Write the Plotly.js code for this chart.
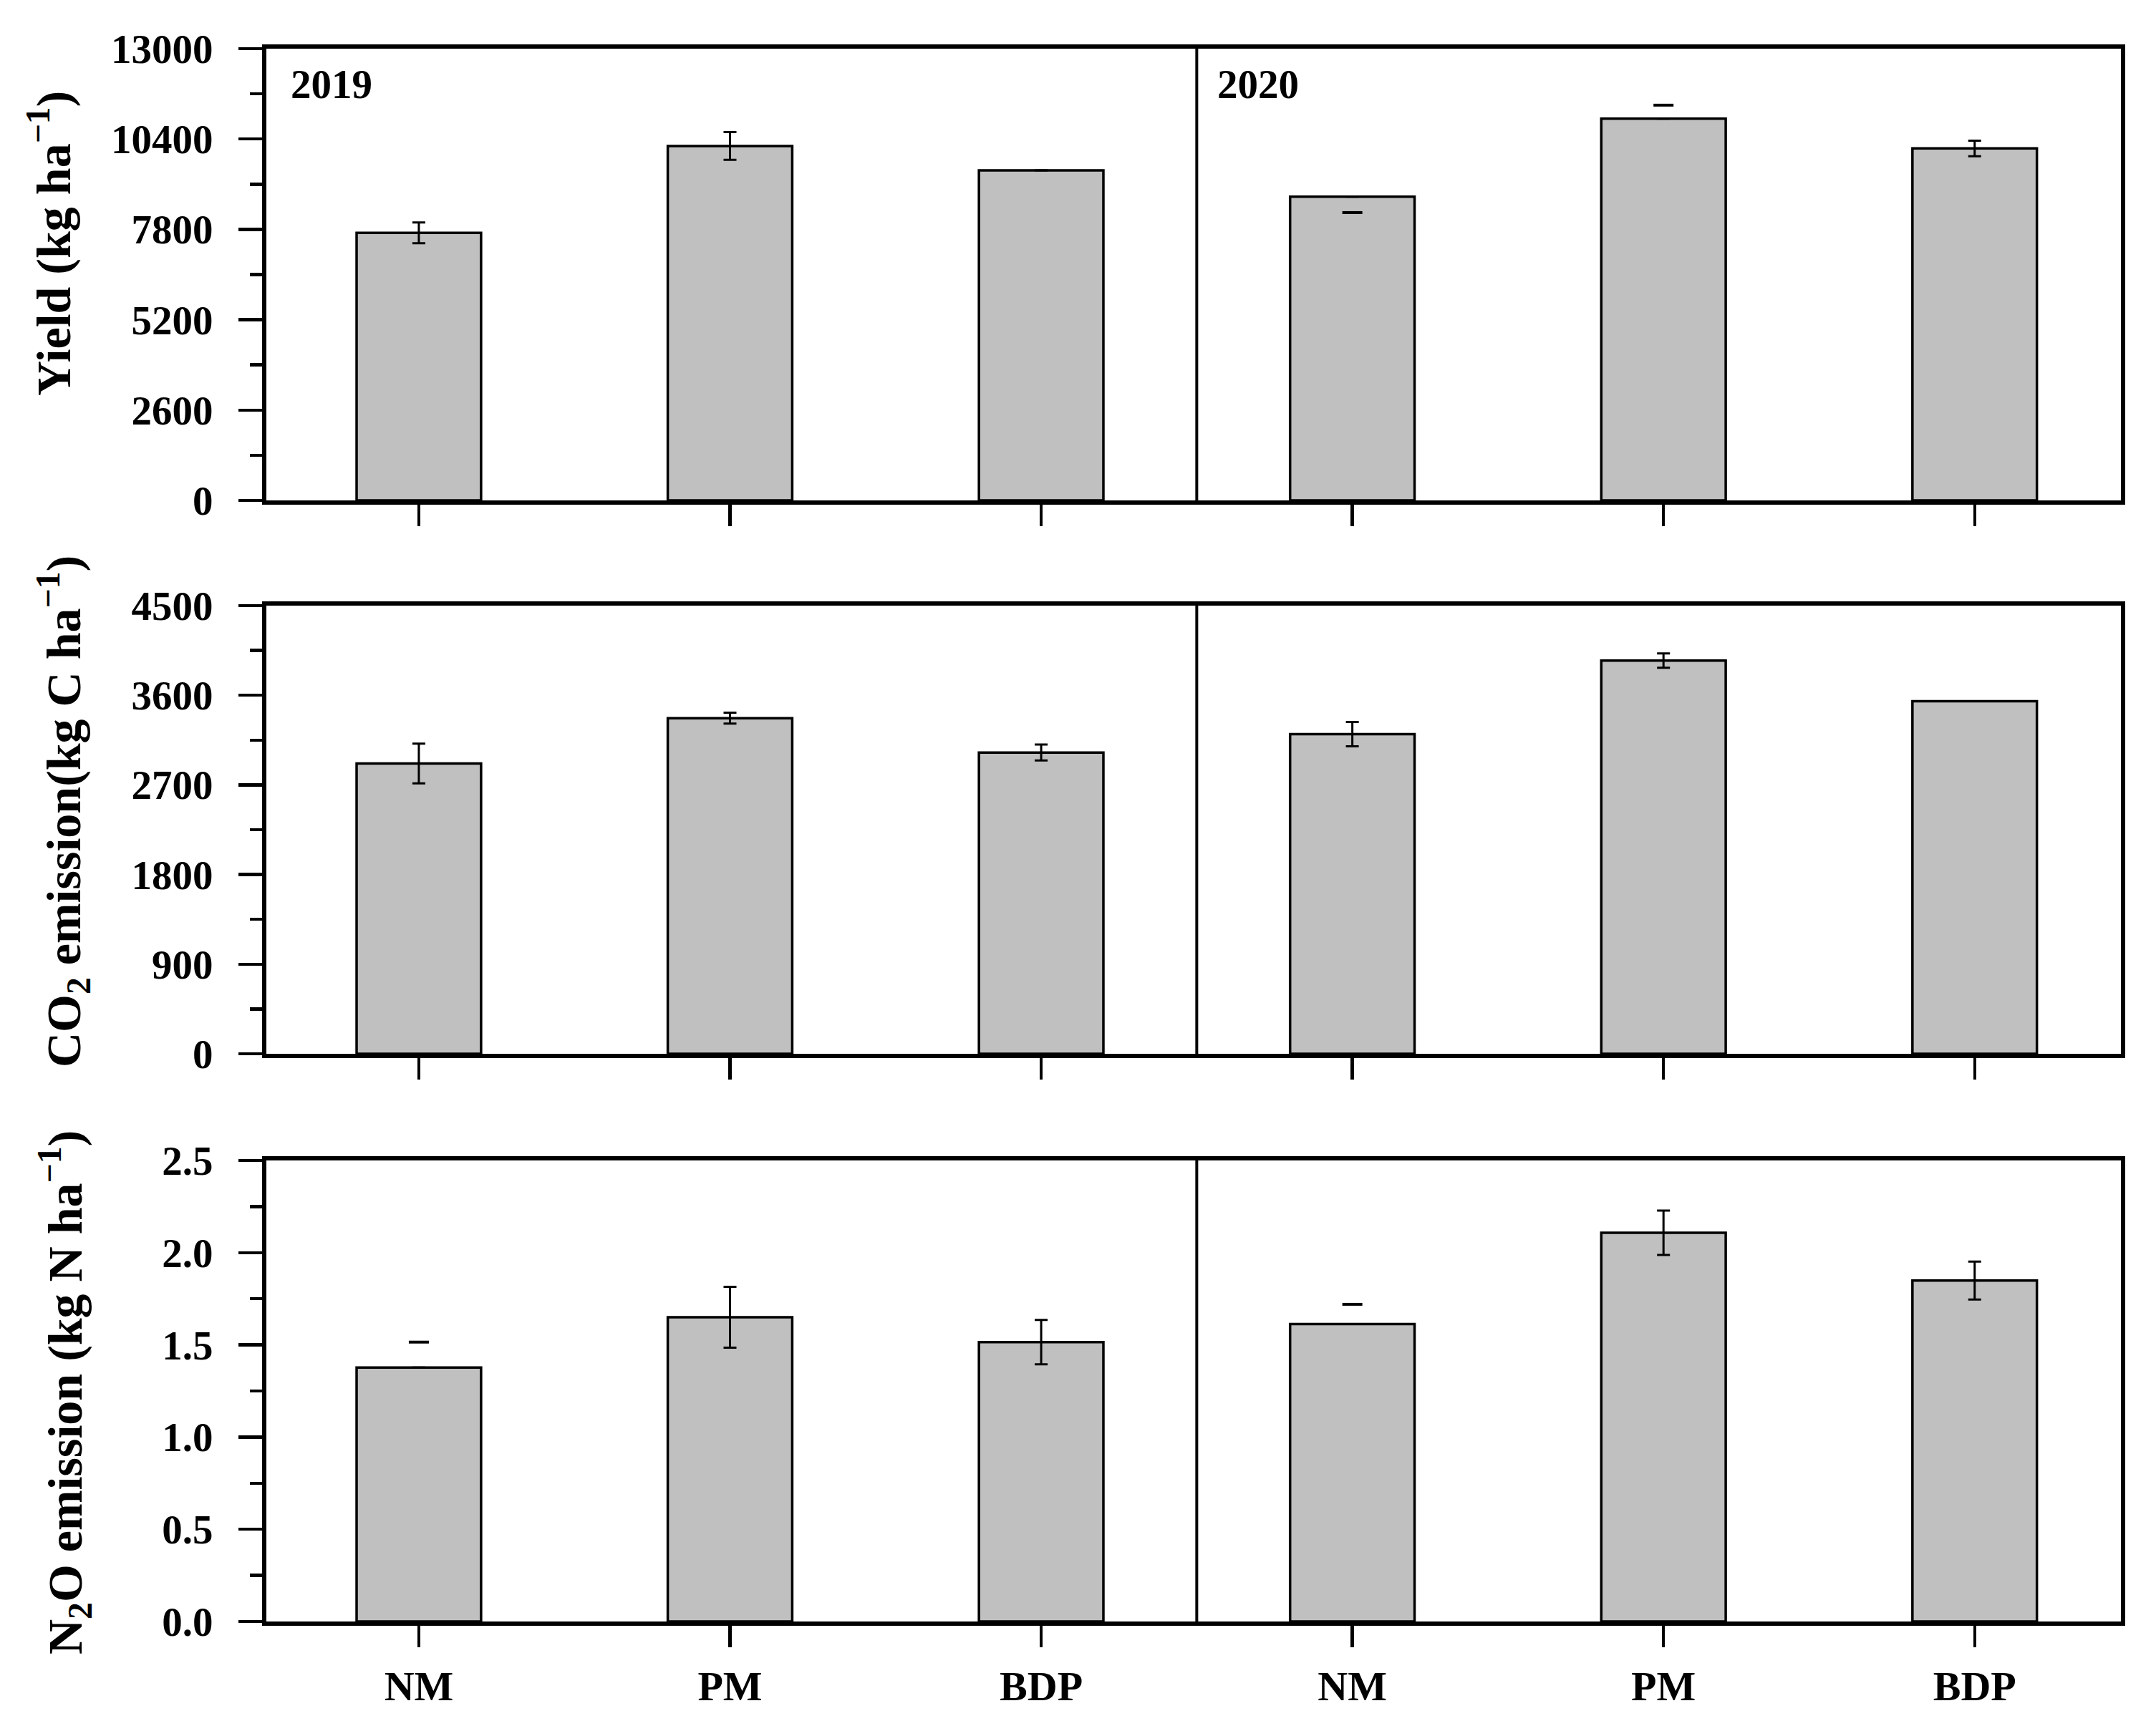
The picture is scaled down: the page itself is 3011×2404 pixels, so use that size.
<!DOCTYPE html>
<html>
<head>
<meta charset="utf-8">
<script src="https://cdn.plot.ly/plotly-3.0.1.min.js"></script>
<style>html,body{margin:0;padding:0;background:#fff;}</style>
</head>
<body>
<div id="chart" style="width:3011px;height:2404px;"></div>
<script>
// ---- data ----
const categories = ['NM', 'PM', 'BDP', 'NM', 'PM', 'BDP'];
const yearLabels = ['2019', '2020'];

const yieldValues = [7700, 10200, 9500, 8740, 10985, 10130];
const yieldErrPlus = [300, 400, 0, 0, 0, 224];
const yieldErrMinus = [300, 400, 0, 0, 0, 224];
const yieldCapOnly = [0, 0, 0, -457, 390, 0];

const co2Values = [2915, 3370, 3025, 3210, 3948, 3540];
const co2ErrPlus = [200, 55, 80, 122, 72, 0];
const co2ErrMinus = [200, 55, 80, 122, 72, 0];
const co2CapOnly = [0, 0, 0, 0, 0, 0];

const n2oValues = [1.377, 1.65, 1.515, 1.613, 2.108, 1.849];
const n2oErrPlus = [0, 0.165, 0.12, 0, 0.12, 0.103];
const n2oErrMinus = [0, 0.165, 0.12, 0, 0.12, 0.103];
const n2oCapOnly = [0.138, 0, 0, 0.107, 0, 0];

const yieldTicks = [0, 2600, 5200, 7800, 10400, 13000];
const co2Ticks = [0, 900, 1800, 2700, 3600, 4500];
const n2oTicks = [0, 0.5, 1.0, 1.5, 2.0, 2.5];

// ---- build ----
const xpos = categories.map((c, i) => i);
const FONT = 'Liberation Serif, Times New Roman, serif';
const BAR_COLOR = '#c0c0c0';

function barTrace(vals, plus, minus, xa, ya) {
  return {
    type: 'bar', x: xpos, y: vals, xaxis: xa, yaxis: ya, width: 0.4,
    marker: {color: BAR_COLOR, line: {color: '#000', width: 3.5}},
    error_y: {type: 'data', symmetric: false, array: plus, arrayminus: minus,
              color: '#000', thickness: 3, width: 9},
    showlegend: false, hoverinfo: 'skip'
  };
}
function capTrace(vals, caps, xa, ya) {
  const xs = [], ys = [];
  caps.forEach((c, i) => { if (c !== 0) { xs.push(xpos[i]); ys.push(vals[i] + c); } });
  return {
    type: 'scatter', mode: 'markers', x: xs, y: ys, xaxis: xa, yaxis: ya,
    marker: {symbol: 'line-ew-open', size: 20, color: '#000', line: {color: '#000', width: 4}},
    showlegend: false, hoverinfo: 'skip', cliponaxis: false
  };
}

const data = [
  barTrace(yieldValues, yieldErrPlus, yieldErrMinus, 'x', 'y'),
  capTrace(yieldValues, yieldCapOnly, 'x', 'y'),
  barTrace(co2Values, co2ErrPlus, co2ErrMinus, 'x2', 'y2'),
  capTrace(co2Values, co2CapOnly, 'x2', 'y2'),
  barTrace(n2oValues, n2oErrPlus, n2oErrMinus, 'x3', 'y3'),
  capTrace(n2oValues, n2oCapOnly, 'x3', 'y3')
];

function xAxis(anchor, showLabels) {
  return {
    anchor: anchor, range: [-0.49, 5.47], tickmode: 'array', tickvals: xpos, ticktext: categories,
    showticklabels: showLabels, ticks: 'outside', ticklen: 30, tickwidth: 4.5, tickcolor: '#000',
    showline: true, linewidth: 6, linecolor: '#000', mirror: true,
    showgrid: false, zeroline: false, ticklabelstandoff: 4,
    tickfont: {family: FONT, size: 58, color: '#000', weight: 'bold'}
  };
}
function yAxis(anchor, domain, ticks, minorStep, fmt) {
  return {
    anchor: anchor, domain: domain, range: [ticks[0], ticks[ticks.length - 1]],
    tickmode: 'array', tickvals: ticks, tickformat: fmt,
    ticks: 'outside', ticklen: 33, tickwidth: 4.5, tickcolor: '#000',
    minor: {dtick: minorStep, ticks: 'outside', ticklen: 17, tickwidth: 4.5, tickcolor: '#000', showgrid: false},
    showline: true, linewidth: 6, linecolor: '#000', mirror: true,
    showgrid: false, zeroline: false, ticklabelstandoff: 24,
    tickfont: {family: FONT, size: 57, color: '#000', weight: 'bold'}
  };
}

const PL = 372, PR = 2962, PT = 68, PB = 2265;
const pw = PR - PL, ph = PB - PT;
const px = v => (v - PL) / pw;
const py = v => (PB - v) / ph;

function divider(xa, ya) {
  return {type: 'line', xref: xa, yref: ya + ' domain', x0: 2.5, x1: 2.5, y0: 0, y1: 1,
          line: {color: '#000', width: 4}};
}

const titleFont = {family: FONT, size: 68, color: '#000', weight: 'bold'};
const annotations = [
  {text: yearLabels[0], xref: 'paper', yref: 'paper', x: px(404), y: py(84), xanchor: 'left', yanchor: 'top',
   showarrow: false, font: {family: FONT, size: 57, color: '#000', weight: 'bold'}},
  {text: yearLabels[1], xref: 'paper', yref: 'paper', x: px(1698), y: py(84), xanchor: 'left', yanchor: 'top',
   showarrow: false, font: {family: FONT, size: 57, color: '#000', weight: 'bold'}},
  {text: 'Yield (kg ha<sup>−1</sup>)', xref: 'paper', yref: 'paper', x: px(70), y: py(340),
   xanchor: 'center', yanchor: 'middle', textangle: -90, showarrow: false, font: titleFont},
  {text: 'CO<sub>2</sub> emission(kg C ha<sup>−1</sup>)', xref: 'paper', yref: 'paper', x: px(88), y: py(1134),
   xanchor: 'center', yanchor: 'middle', textangle: -90, showarrow: false, font: titleFont},
  {text: 'N<sub>2</sub>O emission (kg N ha<sup>−1</sup>)', xref: 'paper', yref: 'paper', x: px(90), y: py(1945),
   xanchor: 'center', yanchor: 'middle', textangle: -90, showarrow: false, font: titleFont}
];

const layout = {
  width: 3011, height: 2404,
  margin: {l: PL, r: 3011 - PR, t: PT, b: 2404 - PB, pad: 0},
  paper_bgcolor: '#fff', plot_bgcolor: '#fff',
  font: {family: FONT, color: '#000'},
  bargap: 0.6,
  xaxis: xAxis('y', false),
  xaxis2: xAxis('y2', false),
  xaxis3: xAxis('y3', true),
  yaxis: yAxis('x', [py(699), 1], yieldTicks, 1300, 'd'),
  yaxis2: yAxis('x2', [py(1472), py(846)], co2Ticks, 450, 'd'),
  yaxis3: yAxis('x3', [0, py(1621)], n2oTicks, 0.25, '.1f'),
  shapes: [divider('x', 'y'), divider('x2', 'y2'), divider('x3', 'y3')],
  annotations: annotations
};

Plotly.newPlot('chart', data, layout, {staticPlot: true, displayModeBar: false});
</script>
</body>
</html>
